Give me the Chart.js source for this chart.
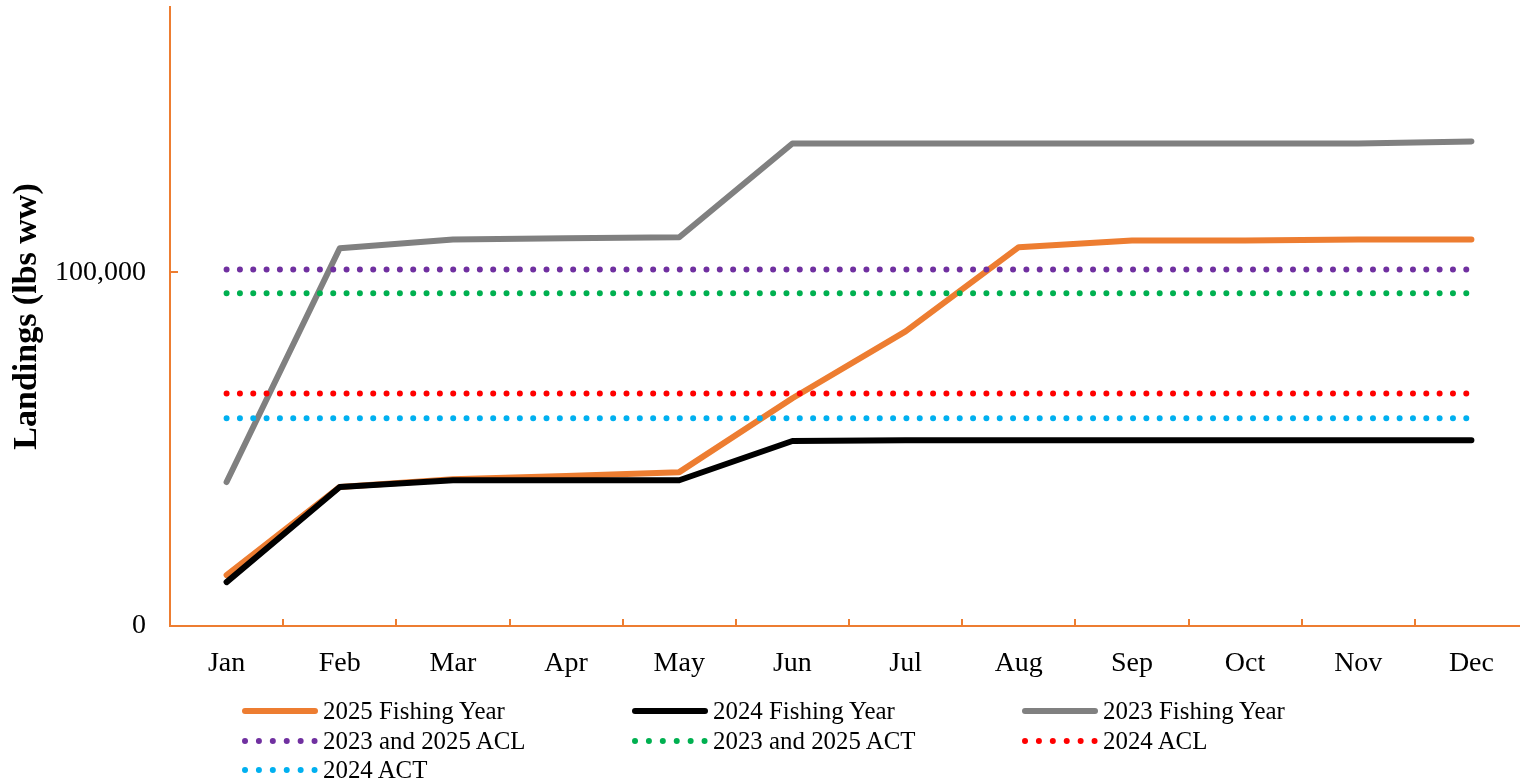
<!DOCTYPE html>
<html>
<head>
<meta charset="utf-8">
<script src="https://cdn.jsdelivr.net/npm/chart.js@4.4.1/dist/chart.umd.min.js"></script>
<style>
  html, body { margin: 0; padding: 0; width: 1520px; height: 784px; overflow: hidden; background: #fff; }
  #wrap { position: relative; width: 1540px; height: 784px; }
  #c { position: absolute; left: 0; top: 0; }
  .lg { position: absolute; display: flex; align-items: center; height: 30px;
        font-family: 'Liberation Serif', 'Times New Roman', serif; font-size: 24.9px; color: #000; white-space: nowrap; }
  .lg svg { margin-right: 5px; }
</style>
</head>
<body>
<div id="wrap">
  <canvas id="c" width="1540" height="784"></canvas>
  <div id="legend"></div>
</div>
<script>
// ---- data ----
const months = ['Jan','Feb','Mar','Apr','May','Jun','Jul','Aug','Sep','Oct','Nov','Dec'];
const fy2025 = [14400, 39300, 41500, 42400, 43500, 64400, 83300, 107100, 109000, 109000, 109300, 109300];
const fy2024 = [12400, 39300, 41200, 41200, 41200, 52300, 52500, 52500, 52500, 52500, 52500, 52500];
const fy2023 = [40700, 106800, 109300, 109600, 109900, 136400, 136400, 136400, 136400, 136400, 136400, 137000];
const acl2023and2025 = [100800, 100800, 100800, 100800, 100800, 100800, 100800, 100800, 100800, 100800, 100800, 100800];
const act2023and2025 = [94100, 94100, 94100, 94100, 94100, 94100, 94100, 94100, 94100, 94100, 94100, 94100];
const acl2024 = [65700, 65700, 65700, 65700, 65700, 65700, 65700, 65700, 65700, 65700, 65700, 65700];
const act2024 = [58700, 58700, 58700, 58700, 58700, 58700, 58700, 58700, 58700, 58700, 58700, 58700];
const yTicks = [0, 100000];
const yMax = 175000;

const ORANGE = '#ED7D31';
const FONT = "'Liberation Serif', 'Times New Roman', serif";

function solid(label, data, color, order) {
  return { label, data, borderColor: color, backgroundColor: color, borderWidth: 6,
           borderCapStyle: 'round', borderJoinStyle: 'round', pointRadius: 0, tension: 0, order, _dots: false };
}
function dotted(label, data, color, order) {
  return { label, data, borderColor: color, backgroundColor: color, borderWidth: 6,
           borderDash: [0.01, 13.32], borderCapStyle: 'round', pointRadius: 0, tension: 0, order, _dots: true };
}

const datasets = [
  solid('2025 Fishing Year', fy2025, ORANGE, 7),
  solid('2024 Fishing Year', fy2024, '#000000', 6),
  solid('2023 Fishing Year', fy2023, '#808080', 5),
  dotted('2023 and 2025 ACL', acl2023and2025, '#7030A0', 4),
  dotted('2023 and 2025 ACT', act2023and2025, '#00B050', 3),
  dotted('2024 ACL', acl2024, '#FF0000', 2),
  dotted('2024 ACT', act2024, '#00B0F0', 1)
];

const innerTicks = {
  id: 'innerTicks',
  afterDraw(chart) {
    const ctx = chart.ctx, xs = chart.scales.x, ys = chart.scales.y, a = chart.chartArea;
    ctx.save();
    ctx.strokeStyle = ORANGE; ctx.lineWidth = 2;
    ctx.beginPath();
    for (let i = 0; i < months.length - 1; i++) {
      const x = Math.round((xs.getPixelForValue(i) + xs.getPixelForValue(i + 1)) / 2);
      ctx.moveTo(x, a.bottom); ctx.lineTo(x, a.bottom - 7);
    }
    yTicks.forEach(v => {
      if (v === 0) return;
      const y = Math.round(ys.getPixelForValue(v));
      ctx.moveTo(a.left, y); ctx.lineTo(a.left + 8, y);
    });
    ctx.stroke();
    ctx.restore();
  }
};

const chart = new Chart(document.getElementById('c'), {
  type: 'line',
  data: { labels: months, datasets },
  options: {
    responsive: false, animation: false,
    layout: { padding: { left: 0, right: 12, top: 7, bottom: 100 } },
    plugins: { legend: { display: false }, tooltip: { enabled: false } },
    elements: { point: { radius: 0 } },
    scales: {
      x: {
        type: 'category', offset: true,
        grid: { display: false, drawTicks: false, offset: true },
        border: { display: true, color: ORANGE, width: 2 },
        ticks: { font: { family: FONT, size: 28 }, color: '#000', padding: 21, maxRotation: 0, autoSkip: false },
        afterFit(s) { s.height = 58; s.paddingLeft = 0; s.paddingRight = 0; }
      },
      y: {
        min: 0, max: yMax,
        grid: { display: false, drawTicks: false },
        border: { display: true, color: ORANGE, width: 2 },
        ticks: { font: { family: FONT, size: 28 }, color: '#000', padding: 24,
                 callback: v => Number(v).toLocaleString('en-US') },
        afterBuildTicks(s) { s.ticks = yTicks.map(v => ({ value: v })); },
        afterFit(s) { s.width = 170; s.paddingTop = 0; s.paddingBottom = 0; },
        title: { display: true, text: 'Landings (lbs ww)', color: '#000',
                 font: { family: FONT, size: 34, weight: 'bold' }, padding: { top: 7, bottom: 0 } }
      }
    }
  },
  plugins: [innerTicks]
});

// ---- HTML legend built from the datasets ----
const legendCols = [242, 632, 1022];
const legendRows = [711, 740.5, 770];
const lg = document.getElementById('legend');
chart.data.datasets.forEach((ds, i) => {
  const col = i % 3, row = Math.floor(i / 3);
  const d = document.createElement('div');
  d.className = 'lg';
  d.style.left = legendCols[col] + 'px';
  d.style.top = (legendRows[row] - 15) + 'px';
  const dash = ds._dots ? 'stroke-dasharray="0.01 13.9"' : '';
  d.innerHTML = '<svg width="76" height="10"><line x1="3" y1="5" x2="73" y2="5" stroke="' + ds.borderColor +
    '" stroke-width="6" stroke-linecap="round" ' + dash + '/></svg><span>' + ds.label + '</span>';
  lg.appendChild(d);
});
</script>
</body>
</html>
